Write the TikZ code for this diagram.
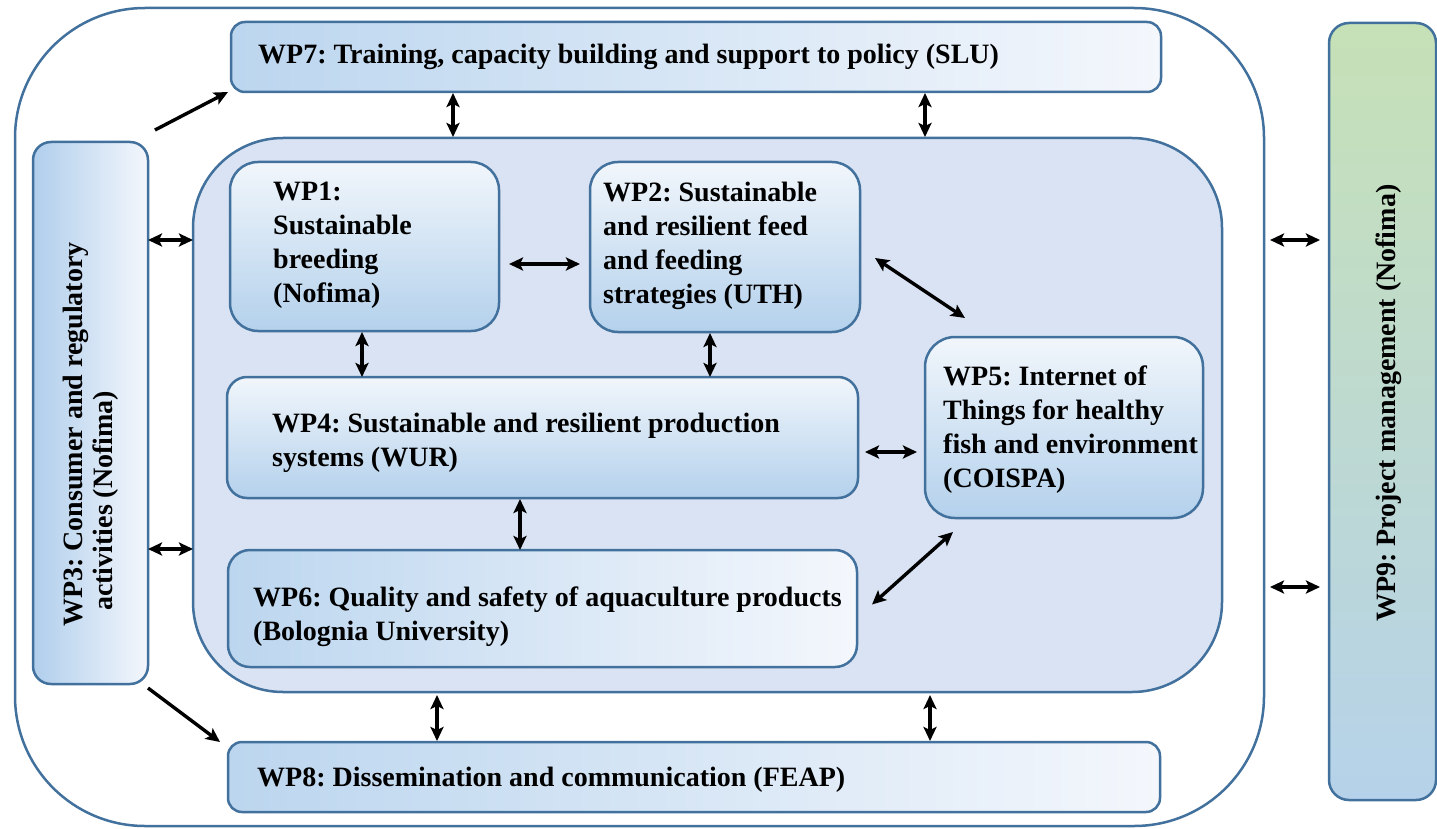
\documentclass[tikz,border=0pt]{standalone}
\usepackage{fontspec}
\setmainfont{Liberation Serif}
\usetikzlibrary{arrows.meta}
\frenchspacing
\definecolor{bord}{RGB}{65,113,156}
\definecolor{innerc}{RGB}{218,227,243}
\definecolor{topw}{RGB}{241,246,251}
\definecolor{botb}{RGB}{180,209,236}
\definecolor{leftb}{RGB}{188,214,239}
\definecolor{rightw}{RGB}{244,247,252}
\definecolor{wp3l}{RGB}{176,206,236}
\definecolor{greenc}{RGB}{198,225,182}
\definecolor{bluec}{RGB}{182,210,234}
\begin{document}
\frenchspacing
\begin{tikzpicture}[x=1pt,y=-1pt,
  box/.style={draw=bord, line width=2.5pt, inner sep=0pt, outer sep=0pt, anchor=north west},
  vgrad/.style={top color=topw, bottom color=botb},
  hgrad/.style={left color=leftb, right color=rightw},
  lbl/.style={font=\fontsize{28}{34}\selectfont\bfseries, inner sep=0pt, align=left, anchor=base west},
  tip/.tip={Stealth[length=14pt,width=13pt,inset=3pt]},
  arr/.style={line width=3.4pt, tip-tip},
  arrone/.style={line width=3.4pt, -tip}
]
\useasboundingbox (0,0) rectangle (1437,829);

% containers
\node[box, fill=white, rounded corners=130pt, minimum width=1249pt, minimum height=818pt] (outer) at (15,8) {};
\node[box, fill=innerc, rounded corners=90pt, minimum width=1029pt, minimum height=554pt] (inner) at (193,138) {};

% boxes
\node[box, hgrad, rounded corners=14pt, minimum width=930pt, minimum height=70pt] (wp7) at (231,22) {};
\node[box, left color=wp3l, right color=rightw, rounded corners=18pt, minimum width=115pt, minimum height=542pt] (wp3) at (33,142) {};
\node[box, vgrad, rounded corners=28pt, minimum width=269pt, minimum height=169pt] (wp1) at (230,162) {};
\node[box, vgrad, rounded corners=28pt, minimum width=270pt, minimum height=170pt] (wp2) at (590,162) {};
\node[box, vgrad, rounded corners=20pt, minimum width=631pt, minimum height=121pt] (wp4) at (227,377) {};
\node[box, vgrad, rounded corners=30pt, minimum width=278pt, minimum height=181pt] (wp5) at (925,337) {};
\node[box, hgrad, rounded corners=22pt, minimum width=629pt, minimum height=117pt] (wp6) at (228,550) {};
\node[box, hgrad, rounded corners=14pt, minimum width=932pt, minimum height=70pt] (wp8) at (228,742) {};
\node[box, top color=greenc, bottom color=bluec, rounded corners=20pt, minimum width=107pt, minimum height=777pt] (wp9) at (1329,23) {};

% labels (anchor = baseline of the last line)
\node[lbl] (t7) at (258,64) {WP7: Training, capacity building and support to policy (SLU)};
\node[lbl] (t1) at (273,302) {WP1:\\Sustainable\\breeding\\(Nofima)};
\node[lbl] (t2) at (603,303) {WP2: Sustainable\\and resilient feed\\and feeding\\strategies (UTH)};
\node[lbl] (t4) at (272,466) {WP4: Sustainable and resilient production\\systems (WUR)};
\node[lbl] (t5) at (943,487) {WP5: Internet of\\Things for healthy\\fish and environment\\(COISPA)};
\node[lbl] (t6) at (253,640) {WP6: Quality and safety of aquaculture products\\(Bolognia University)};
\node[lbl] (t8) at (257,786) {WP8: Dissemination and communication (FEAP)};
\node[lbl, font=\fontsize{28}{30}\selectfont\bfseries, rotate=90] (t3) at (112,627) {WP3: Consumer and regulatory\\\hspace*{16pt}activities (Nofima)};
\node[lbl, rotate=90] (t9) at (1395,622) {WP9: Project management (Nofima)};

% reference levels
\coordinate (ya) at (0,240);
\coordinate (yb) at (0,549);
\coordinate (yc) at (0,264);
\coordinate (yd) at (0,452);
\coordinate (ye) at (0,587);
\coordinate (xa) at (453,0);
\coordinate (xb) at (925,0);
\coordinate (xc) at (362,0);
\coordinate (xd) at (710,0);
\coordinate (xe) at (520,0);
\coordinate (xf) at (437,0);
\coordinate (xg) at (930,0);

% connectors
\draw[arrone] ([xshift=7pt,yshift=12pt]wp3.north east) -- ([xshift=-3pt]wp7.south west);
\draw[arrone] ([yshift=-4pt]wp3.south east) -- ([xshift=-8pt]wp8.north west);
\draw[arr] (wp3.east |- ya) -- (inner.west |- ya);
\draw[arr] (wp3.east |- yb) -- (inner.west |- yb);
\draw[arr, shorten <=1pt, shorten >=1pt] (wp7.south -| xa) -- (inner.north -| xa);
\draw[arr, shorten <=1pt, shorten >=1pt] (wp7.south -| xb) -- (inner.north -| xb);
\draw[arr, shorten <=10pt, shorten >=10pt] (wp1.east |- yc) -- (wp2.west |- yc);
\draw[arr, shorten <=1pt] (wp1.south -| xc) -- (wp4.north -| xc);
\draw[arr, shorten <=1pt] (wp2.south -| xd) -- (wp4.north -| xd);
\draw[arr] ([xshift=15pt,yshift=-11pt]wp2.east) -- ([xshift=40pt,yshift=19pt]wp5.north west);
\draw[arr, shorten <=7pt, shorten >=8pt] (wp4.east |- yd) -- (wp5.west |- yd);
\draw[arr, shorten <=1pt] (wp4.south -| xe) -- (wp6.north -| xe);
\draw[arr] ([xshift=15pt,yshift=4pt]wp6.east) -- ([xshift=28pt,yshift=-14pt]wp5.south west);
\draw[arr, shorten <=3pt, shorten >=1pt] (inner.south -| xf) -- (wp8.north -| xf);
\draw[arr, shorten <=3pt, shorten >=1pt] (inner.south -| xg) -- (wp8.north -| xg);
\draw[arr, shorten <=6pt, shorten >=9pt] (outer.east |- ya) -- (wp9.west |- ya);
\draw[arr, shorten <=6pt, shorten >=9pt] (outer.east |- ye) -- (wp9.west |- ye);
\end{tikzpicture}
\end{document}
